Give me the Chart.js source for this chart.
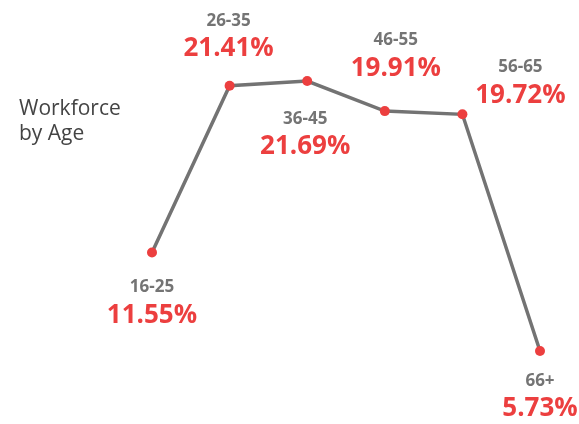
<!DOCTYPE html>
<html>
<head>
<meta charset="utf-8">
<script src="https://cdn.jsdelivr.net/npm/chart.js@4"></script>
<style>
  html, body { margin: 0; padding: 0; background: #fff; }
  #wrap { position: relative; width: 579px; height: 424px; }
  #title {
    position: absolute; left: 19px; top: 95px;
    font-family: "Open Sans", sans-serif; font-size: 21px; line-height: 25px;
    color: #444;
  }
</style>
</head>
<body>
<div id="wrap">
  <div id="title">Workforce<br>by Age</div>
  <canvas id="chart" width="579" height="424"></canvas>
</div>
<script>
const ageGroups = ['16-25', '26-35', '36-45', '46-55', '56-65', '66+'];
const shares = [11.55, 21.41, 21.69, 19.91, 19.72, 5.73];

// where each label pair sits relative to its point (px): [dx, dy of the age line]
const labelOffsets = [
  [0, 35], [-1, -65], [-2, 38], [11, -71], [58, -47], [0, 30]
];

const pointLabels = {
  id: 'pointLabels',
  afterDatasetsDraw(chart) {
    const ctx = chart.ctx;
    const meta = chart.getDatasetMeta(0);
    ctx.save();
    ctx.textAlign = 'center';
    ctx.textBaseline = 'middle';
    meta.data.forEach((pt, i) => {
      const [dx, dy] = labelOffsets[i];
      const x = pt.x + dx;
      const y = pt.y + dy;
      ctx.font = 'bold 17px "Open Sans", sans-serif';
      ctx.fillStyle = '#747474';
      ctx.fillText(ageGroups[i], x, y);
      ctx.font = 'bold 26px "Open Sans", sans-serif';
      ctx.fillStyle = '#ec3f3f';
      ctx.fillText(shares[i].toFixed(2) + '%', x, y + 28);
    });
    ctx.restore();
  }
};

new Chart(document.getElementById('chart'), {
  type: 'line',
  data: {
    labels: ageGroups,
    datasets: [{
      data: shares,
      borderColor: '#737373',
      borderWidth: 3.5,
      pointBackgroundColor: '#ec3f3f',
      pointBorderColor: '#ec3f3f',
      pointRadius: 5,
      pointBorderWidth: 0,
      tension: 0,
      clip: false,
    }],
  },
  options: {
    responsive: false,
    animation: false,
    layout: { autoPadding: false, padding: { left: 152, right: 39, top: 0, bottom: 0 } },
    plugins: {
      legend: { display: false },
      tooltip: { enabled: false },
    },
    scales: {
      x: { display: false, offset: false },
      y: { display: false, min: 1.41, max: 26.48 },
    },
  },
  plugins: [pointLabels],
});
</script>
</body>
</html>
